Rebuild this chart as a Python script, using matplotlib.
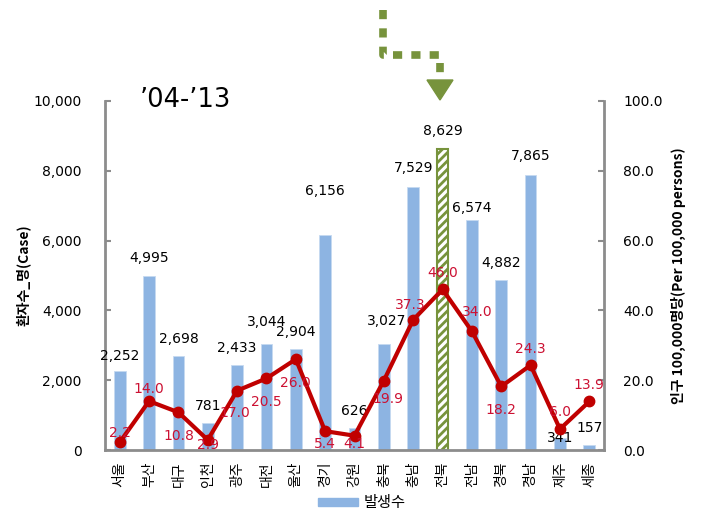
import matplotlib.pyplot as plt
from matplotlib.lines import Line2D
from matplotlib.patches import Polygon, Patch

plt.rcParams['font.family'] = ['Noto Sans CJK KR', 'DejaVu Sans']
plt.rcParams['hatch.linewidth'] = 2.0

# data
regions = ['서울', '부산', '대구', '인천', '광주', '대전', '울산', '경기', '강원',
           '충북', '충남', '전북', '전남', '경북', '경남', '제주', '세종']
cases = [2252, 4995, 2698, 781, 2433, 3044, 2904, 6156, 626,
         3027, 7529, 8629, 6574, 4882, 7865, 341, 157]
rates = [2.2, 14.0, 10.8, 2.9, 17.0, 20.5, 26.0, 5.4, 4.1,
         19.9, 37.3, 46.0, 34.0, 18.2, 24.3, 6.0, 13.9]
highlight = '전북'

# label offsets (points) so the labels sit like in the original
case_off = [(0, 11), (0, 13), (0, 12), (0, 12), (0, 12), (0, 16), (0, 12), (0, 32), (0, 12),
            (2, 17), (0, 14), (0, 13), (0, 9), (0, 12), (0, 14), (0, 0), (0, 12)]
rate_off = [(0, 7), (0, 9), (0, -17), (0, -4), (-2, -16), (0, -17), (0, -17), (0, -9), (0, -6),
            (3, -13), (-2, 11), (0, 12), (4, 14), (0, -17), (0, 12), (0, 12), (0, 12)]

blue = '#8DB4E2'
green = '#77933C'
red = '#C00000'
lab_red = '#CC1133'
grey = '#8C8C8C'

fig = plt.figure(figsize=(7.02, 5.2), dpi=100)
ax = fig.add_axes([0.1496, 0.1346, 0.7108, 0.6714])
x = list(range(len(regions)))

for i, (r, c) in enumerate(zip(regions, cases)):
    if r == highlight:
        ax.bar(i, c, width=0.4, color='white', edgecolor=green, hatch='////', linewidth=1.5)
    else:
        ax.bar(i, c, width=0.4, color=blue, edgecolor='#C5D9F1', linewidth=0.6)
    ax.annotate(f'{c:,}', (i, c), xytext=case_off[i], textcoords='offset points',
                ha='center', va='center', fontsize=10, family='DejaVu Sans')

ax.set_xlim(-0.5, len(regions) - 0.5)
ax.set_ylim(0, 10000)
ax.set_yticks(range(0, 10001, 2000))
ax.set_yticklabels([f'{v:,}' for v in range(0, 10001, 2000)], family='DejaVu Sans')
ax.set_xticks(x)
ax.set_xticklabels(regions, rotation=90, fontsize=10)
ax.tick_params(axis='y', direction='in', length=4, width=1.5, color=grey, pad=17, labelsize=10)
ax.tick_params(axis='x', length=0, pad=8)
ax.set_ylabel('환자수_명(Case)', fontsize=10, fontweight='bold', labelpad=2)
for s in ['top', 'right']:
    ax.spines[s].set_visible(False)
for s in ['left', 'bottom']:
    ax.spines[s].set_color(grey)
    ax.spines[s].set_linewidth(2)

ax2 = ax.twinx()
ax2.plot(x, rates, color=red, linewidth=3, marker='o', markersize=7.5)
for i, v in enumerate(rates):
    ax2.annotate(f'{v:.1f}', (i, v), xytext=rate_off[i], textcoords='offset points',
                 ha='center', va='center', fontsize=10, color=lab_red, family='DejaVu Sans')
ax2.set_ylim(0, 100)
ax2.set_yticks(range(0, 101, 20))
ax2.set_yticklabels([f'{v:.1f}' for v in range(0, 101, 20)], family='DejaVu Sans')
ax2.tick_params(axis='y', direction='in', length=4, width=1.5, color=grey, pad=14, labelsize=10)
ax2.set_ylabel('인구 100,000명당(Per 100,000 persons)', fontsize=10, fontweight='bold', labelpad=6)
for s in ['top', 'left', 'bottom']:
    ax2.spines[s].set_visible(False)
ax2.spines['right'].set_color(grey)
ax2.spines['right'].set_linewidth(2)

fig.text(140 / 702, 1 - 100 / 520, '\u201904-\u201913', fontsize=18.5, va='center',
         family='DejaVu Sans')

# green dotted arrow
W, H = 702, 520
path_x = [383 / W, 383 / W, 440 / W, 440 / W]
path_y = [1 - 10 / H, 1 - 55 / H, 1 - 55 / H, 1 - 74 / H]
fig.add_artist(Line2D(path_x, path_y, color=green, linewidth=5.5,
                      linestyle=(0, (1.2, 1.2)), solid_capstyle='butt', dash_capstyle='butt'))
fig.add_artist(Polygon([(427 / W, 1 - 80 / H), (453 / W, 1 - 80 / H), (440 / W, 1 - 100 / H)],
                       closed=True, color=green, transform=fig.transFigure))

fig.legend(handles=[Patch(color=blue, label='발생수')], loc='center',
           bbox_to_anchor=(362 / W, 1 - 503 / H), frameon=False, fontsize=11,
           handlelength=2.6, handleheight=0.5, handletextpad=0.4)

fig.savefig('out.png', dpi=100, facecolor='white')
